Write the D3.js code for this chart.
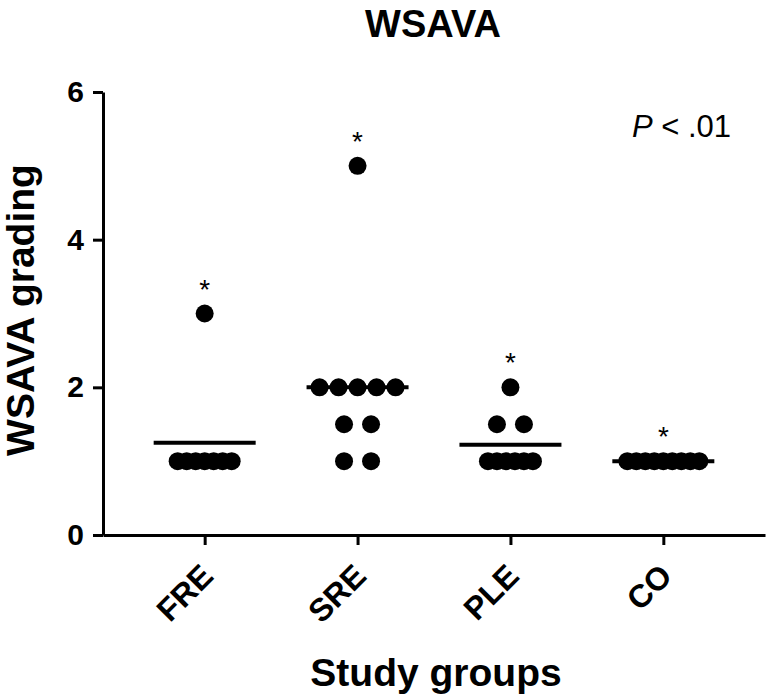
<!DOCTYPE html>
<html>
<head>
<meta charset="utf-8">
<script src="https://cdn.jsdelivr.net/npm/d3@7"></script>
<style>
  html, body { margin: 0; padding: 0; background: #fff; }
  svg { display: block; }
  text { font-family: "Liberation Sans", Arial, Helvetica, sans-serif; fill: #000; }
</style>
</head>
<body>
<svg id="chart" width="770" height="695"></svg>
<script>
// ---- data ----
const categories = ["FRE", "SRE", "PLE", "CO"];
const freValues = [3, 1, 1, 1, 1, 1, 1, 1];
const sreValues = [5, 2, 2, 2, 2, 2, 1.5, 1.5, 1, 1];
const pleValues = [2, 1.5, 1.5, 1, 1, 1, 1, 1, 1];
const coValues  = [1, 1, 1, 1, 1, 1, 1, 1, 1];
const significance = ["*", "*", "*", "*"];
const yTicks = [0, 2, 4, 6];
const chartTitle = "WSAVA";
const yLabel = "WSAVA grading";
const xLabel = "Study groups";
const pText = ["P", " < .01"];

const groups = [freValues, sreValues, pleValues, coValues];

// ---- layout ----
const svg = d3.select("#chart");
const mLeft = 103, mRight = 765, mTop = 92, mBottom = 535;

const x = d3.scalePoint().domain(categories).range([mLeft, mRight]).padding(0.665);
const y = d3.scaleLinear().domain([0, 6]).range([mBottom, mTop]);

// axes
const yAxis = d3.axisLeft(y).tickValues(yTicks).tickFormat(d3.format("d"))
  .tickSize(10).tickSizeOuter(0).tickPadding(9);
const gy = svg.append("g").attr("transform", `translate(${mLeft},0)`).call(yAxis);
gy.select(".domain").attr("stroke", "#000").attr("stroke-width", 3);
gy.selectAll(".tick line").attr("stroke", "#000").attr("stroke-width", 3);
gy.selectAll(".tick text").attr("font-size", 30).attr("font-weight", "bold")
  .attr("font-family", "Liberation Sans, Arial, sans-serif").attr("fill", "#000");

const xAxis = d3.axisBottom(x).tickSize(10).tickSizeOuter(0);
const gx = svg.append("g").attr("transform", `translate(0,${mBottom})`).call(xAxis);
gx.select(".domain").attr("stroke", "#000").attr("stroke-width", 3);
gx.selectAll(".tick line").attr("stroke", "#000").attr("stroke-width", 3);
gx.selectAll(".tick text")
  .attr("font-size", 32).attr("font-weight", "bold")
  .attr("font-family", "Liberation Sans, Arial, sans-serif").attr("fill", "#000")
  .attr("text-anchor", "end")
  .attr("x", 0).attr("y", 0).attr("dy", 0)
  .attr("transform", "translate(10,43) rotate(-45)");

// dots
const r = 9;
function spacingFor(n) { return n <= 2 ? 27 : (n <= 5 ? 19 : 9); }

categories.forEach((cat, ci) => {
  const vals = groups[ci];
  const cx = x(cat);
  const byVal = d3.group(vals, v => v);
  const pts = [];
  byVal.forEach((arr, v) => {
    const n = arr.length, s = spacingFor(n);
    arr.forEach((_, i) => pts.push({ v, dx: (i - (n - 1) / 2) * s }));
  });
  const m = d3.mean(vals);
  svg.append("line")
    .attr("x1", cx - 51).attr("x2", cx + 51)
    .attr("y1", y(m)).attr("y2", y(m))
    .attr("stroke", "#000").attr("stroke-width", 4);
  svg.append("g").selectAll("circle").data(pts).join("circle")
    .attr("cx", d => cx + d.dx).attr("cy", d => y(d.v)).attr("r", r).attr("fill", "#000");
  svg.append("text")
    .attr("x", cx).attr("y", y(d3.max(vals)) - 15)
    .attr("text-anchor", "middle").attr("font-size", 28)
    .text(significance[ci]);
});

// titles
svg.append("text").attr("x", 433).attr("y", 37).attr("text-anchor", "middle")
  .attr("font-size", 38).attr("font-weight", "bold").text(chartTitle);

svg.append("text").attr("transform", "translate(34,310) rotate(-90)")
  .attr("text-anchor", "middle").attr("font-size", 39).attr("font-weight", "bold").text(yLabel);

svg.append("text").attr("x", 436).attr("y", 686).attr("text-anchor", "middle")
  .attr("font-size", 39).attr("font-weight", "bold").text(xLabel);

const pt = svg.append("text").attr("x", 731).attr("y", 137).attr("text-anchor", "end").attr("font-size", 31);
pt.append("tspan").attr("font-style", "italic").text(pText[0]);
pt.append("tspan").text(pText[1]);
</script>
</body>
</html>
